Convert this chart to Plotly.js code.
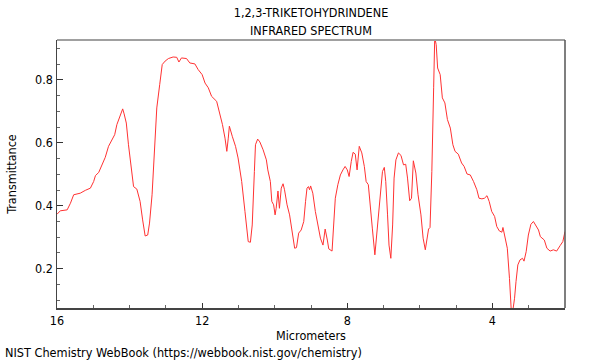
<!DOCTYPE html>
<html>
<head>
<meta charset="utf-8">
<script src="https://cdn.plot.ly/plotly-3.0.1.min.js"></script>
<style>html,body{margin:0;padding:0;background:#fff}#chart{width:600px;height:360px}</style>
</head>
<body>
<div id="chart"></div>
<script>
const micrometers = [16.00,15.91,15.72,15.63,15.54,15.36,15.22,15.08,14.99,14.94,14.85,14.76,14.67,14.58,14.48,14.41,14.35,14.26,14.19,14.15,14.09,14.03,13.95,13.89,13.80,13.71,13.64,13.57,13.50,13.45,13.38,13.31,13.25,13.17,
13.10,13.02,12.93,12.80,12.70,12.64,12.57,12.43,12.34,12.20,12.11,12.00,11.92,11.83,11.74,11.60,11.51,11.44,11.37,11.32,11.28,11.25,11.17,11.08,11.01,10.91,10.82,10.73,10.67,10.62,10.56,10.53,10.47,10.41,10.32,
10.23,10.19,10.12,10.08,10.03,9.99,9.96,9.91,9.87,9.82,9.77,9.73,9.66,9.59,9.53,9.45,9.40,9.34,9.27,9.20,9.15,9.11,9.07,9.04,9.01,8.95,8.88,8.81,8.74,8.67,8.61,8.55,8.51,8.42,8.38,8.33,8.26,8.19,8.12,8.06,8.00,7.95,7.89,7.84,7.78,7.73,7.67,7.60,7.53,7.48,
7.42,7.37,7.31,7.24,7.20,7.15,7.09,7.03,6.98,6.94,6.89,6.85,6.80,6.75,6.71,6.66,6.59,6.52,6.45,6.39,6.34,6.28,6.23,6.18,6.11,6.05,5.97,5.91,5.85,5.79,5.76,5.72,5.67,5.62,5.59,5.55,5.51,5.44,5.38,5.31,5.24,5.16,5.09,5.03,4.94,4.85,4.78,4.70,
4.61,4.52,4.43,4.37,4.29,4.22,4.15,4.09,4.02,3.94,3.88,3.81,3.74,3.71,3.65,3.59,3.53,3.48,3.44,3.39,3.35,3.30,3.24,3.17,3.13,3.07,3.01,2.94,2.87,2.80,2.73,2.68,2.62,2.57,2.50,2.41,2.32,2.23,2.13,2.06,2.00];

const transmittance = [0.373,0.384,0.387,0.408,0.435,0.440,0.449,0.456,0.477,0.496,0.506,0.530,0.554,0.589,0.610,0.626,0.658,0.684,0.708,0.692,0.663,0.594,0.509,0.461,0.453,0.414,0.355,0.304,0.307,0.345,0.435,0.594,0.711,0.785,
0.849,0.860,0.868,0.873,0.872,0.857,0.870,0.868,0.854,0.851,0.833,0.817,0.790,0.775,0.748,0.732,0.695,0.658,0.615,0.573,0.615,0.653,0.621,0.589,0.552,0.477,0.382,0.286,0.284,0.339,0.509,0.594,0.612,0.603,0.578,
0.546,0.514,0.477,0.414,0.403,0.371,0.392,0.447,0.392,0.456,0.470,0.451,0.403,0.371,0.318,0.265,0.267,0.313,0.323,0.350,0.414,0.456,0.461,0.451,0.463,0.440,0.382,0.339,0.297,0.275,0.326,0.291,0.263,0.256,0.318,0.424,0.467,0.498,0.514,0.525,0.514,0.493,0.541,0.570,0.564,0.514,0.589,0.568,0.525,0.477,
0.467,0.414,0.329,0.244,0.297,0.376,0.435,0.509,0.522,0.477,0.371,0.275,0.233,0.339,0.488,0.546,0.568,0.560,0.530,0.532,0.488,0.416,0.424,0.543,0.504,0.435,0.371,0.297,0.260,0.297,0.326,0.331,0.509,0.775,0.935,0.912,0.838,0.817,0.743,0.727,0.674,0.647,0.594,0.573,0.564,0.536,0.525,0.501,
0.498,0.477,0.451,0.424,0.422,0.424,0.432,0.414,0.382,0.366,0.334,0.320,0.316,0.331,0.302,0.265,0.169,0.065,0.065,0.106,0.159,0.212,0.228,0.233,0.224,0.254,0.307,0.341,0.350,0.334,0.323,0.302,0.297,0.291,0.265,0.256,0.260,0.256,0.274,0.286,0.318];

const xTickVals = [16, 12, 8, 4];
const xTickText = ['16', '12', '8', '4'];
const yTickVals = [0.2, 0.4, 0.6, 0.8];
const yTickText = ['0.2', '0.4', '0.6', '0.8'];
const titleLines = ['1,2,3-TRIKETOHYDRINDENE', 'INFRARED SPECTRUM'];
const footer = 'NIST Chemistry WebBook (https://webbook.nist.gov/chemistry)';

const FONT = '"DejaVu Sans Condensed", "DejaVu Sans", sans-serif';
const FS = 12.5;
const PLOT_H = 268, PLOT_W = 508;

const trace = {
  x: micrometers, y: transmittance, type: 'scatter', mode: 'lines',
  line: {color: 'rgb(255,50,50)', width: 1}, hoverinfo: 'skip'
};

const layout = {
  width: 600, height: 360,
  margin: {l: 57, r: 35, t: 40, b: 52},
  paper_bgcolor: '#fff', plot_bgcolor: '#fff',
  showlegend: false,
  font: {family: FONT, size: FS, color: '#000'},
  title: {
    text: titleLines[0],
    font: {family: FONT, size: FS, color: '#000'},
    x: 0.5, xref: 'paper', xanchor: 'center',
    y: 1 - 13/360, yref: 'container', yanchor: 'middle'
  },
  xaxis: {
    range: [16, 2], autorange: false,
    tickmode: 'array', tickvals: xTickVals, ticktext: xTickText,
    ticks: 'inside', ticklen: 5, tickwidth: 1, tickcolor: '#333',
    minor: {dtick: 1, tick0: 0, ticks: 'inside', ticklen: 3, tickcolor: '#666', showgrid: false},
    showgrid: false, zeroline: false,
    showline: true, linecolor: '#444', linewidth: 1.5,
    tickfont: {family: FONT, size: FS, color: '#000'},
    title: {text: 'Micrometers', font: {family: FONT, size: FS, color: '#000'}, standoff: 3}
  },
  yaxis: {
    range: [0.075, 0.927], autorange: false,
    tickmode: 'array', tickvals: yTickVals, ticktext: yTickText,
    ticks: 'inside', ticklen: 6, tickwidth: 1, tickcolor: '#333',
    minor: {dtick: 0.05, tick0: 0, ticks: 'inside', ticklen: 3, tickcolor: '#666', showgrid: false},
    showgrid: false, zeroline: false,
    showline: true, linecolor: '#444', linewidth: 1.5,
    tickfont: {family: FONT, size: FS, color: '#000'},
    title: {text: 'Transmittance', font: {family: FONT, size: FS, color: '#000'}, standoff: 15}
  },
  shapes: [
    {type: 'line', xref: 'paper', yref: 'paper', x0: 0, x1: 1, y0: 1, y1: 1, line: {color: '#a0a0a0', width: 2}},
    {type: 'line', xref: 'paper', yref: 'paper', x0: 1, x1: 1, y0: 0, y1: 1, line: {color: '#555', width: 1.5}}
  ],
  annotations: [
    {text: titleLines[1], xref: 'paper', yref: 'paper', x: 0.5, y: 1 + 10/PLOT_H, xanchor: 'center', yanchor: 'middle',
     showarrow: false, font: {family: FONT, size: FS, color: '#000'}},
    {text: footer, xref: 'paper', yref: 'paper', x: -54/PLOT_W, y: -44/PLOT_H, xanchor: 'left', yanchor: 'middle',
     showarrow: false, font: {family: FONT, size: 12.6, color: '#000'}}
  ]
};

Plotly.newPlot('chart', [trace], layout, {staticPlot: true, displayModeBar: false});
</script>
</body>
</html>
